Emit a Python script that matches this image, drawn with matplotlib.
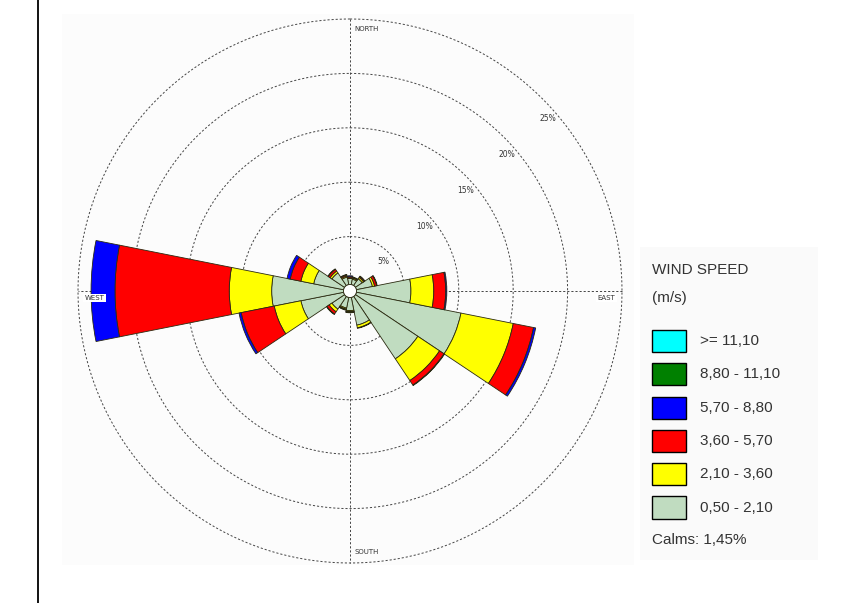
import matplotlib.pyplot as plt
import numpy as np
from matplotlib.patches import Rectangle, Circle
from matplotlib.lines import Line2D

# wind rose data, % frequency per direction and speed class
directions = ["N", "NNE", "NE", "ENE", "E", "ESE", "SE", "SSE",
              "S", "SSW", "SW", "WSW", "W", "WNW", "NW", "NNW"]
calm_r = 0.6
f_050_210 = [0.55, 0.5, 0.75, 1.5, 5.0, 9.8, 6.9, 2.6, 1.2, 1.0, 1.4, 4.0, 6.6, 2.8, 1.4, 0.7]
f_210_360 = [0.05, 0.1, 0.15, 0.2, 2.1, 4.9, 2.4, 0.25, 0.1, 0.1, 0.3, 2.5, 3.9, 1.2, 0.2, 0.1]
f_360_570 = [0.1, 0.05, 0.1, 0.2, 1.1, 1.9, 0.5, 0.05, 0.05, 0.05, 0.25, 3.1, 10.5, 1.0, 0.2, 0.1]
f_570_880 = [0.1, 0.05, 0.05, 0.05, 0.1, 0.2, 0.05, 0.0, 0.05, 0.05, 0.05, 0.2, 2.2, 0.3, 0.05, 0.05]
f_880_1110 = [0.0] * 16
f_1110 = [0.0] * 16

classes = [">= 11,10", "8,80 - 11,10", "5,70 - 8,80", "3,60 - 5,70", "2,10 - 3,60", "0,50 - 2,10"]
class_colors = ["#00ffff", "#008000", "#0000ff", "#ff0000", "#ffff00", "#c0dcc0"]
rings = [5, 10, 15, 20, 25]
calms_text = "Calms: 1,45%"

W, H = 854, 603
fig = plt.figure(figsize=(W / 100, H / 100), dpi=100)


def fx(x):
    return x / W


def fy(y):
    return 1 - y / H


# very light grey panels
fig.add_artist(Rectangle((fx(62), fy(565)), fx(634) - fx(62), fy(14) - fy(565),
                         facecolor="#fcfcfc", edgecolor="none", zorder=0))
fig.add_artist(Rectangle((fx(640), fy(560)), fx(818) - fx(640), fy(247) - fy(560),
                         facecolor="#fafafa", edgecolor="none", zorder=0))
fig.add_artist(Line2D([fx(38), fx(38)], [0, 1], color="black", lw=1.3))

cx, cy, R = 350, 291, 272
ax = fig.add_axes([fx(cx - R), fy(cy + R), 2 * R / W, 2 * R / H], projection="polar")
ax.patch.set_alpha(0)
ax.set_theta_zero_location("N")
ax.set_theta_direction(-1)
ax.set_ylim(0, 25)
ax.grid(False)
ax.spines["polar"].set_visible(False)
ax.set_xticks([])
ax.set_yticks([])

theta = np.deg2rad(np.arange(16) * 22.5)
width = 2 * np.pi / 16

# rings and axis lines
t = np.linspace(0, 2 * np.pi, 400)
for r in rings:
    ax.plot(t, np.full_like(t, r), color="#444444", lw=0.7, ls=(0, (2.2, 2)), clip_on=False, zorder=1)
for a in [0, 90]:
    ax.plot([np.deg2rad(a), np.deg2rad(a + 180)], [25, 25], color="#444444", lw=0.7,
            ls=(0, (2.2, 2)), clip_on=False, zorder=1)

# stacked bars
bottom = np.full(16, calm_r)
for vals, col in [(f_050_210, class_colors[5]), (f_210_360, class_colors[4]),
                  (f_360_570, class_colors[3]), (f_570_880, class_colors[2]),
                  (f_880_1110, class_colors[1]), (f_1110, class_colors[0])]:
    vals = np.array(vals)
    m = vals > 0
    ax.bar(theta[m], vals[m], width=width, bottom=bottom[m], color=col,
           edgecolor="#2a2a10", linewidth=0.6, zorder=3)
    bottom = bottom + vals

ax.add_artist(Circle((0, 0), calm_r, transform=ax.transData._b, facecolor="white",
                     edgecolor="#2a2a10", lw=0.6, zorder=4))

# ring labels
for r in rings:
    ax.text(np.deg2rad(49), r - 0.9, f"{r}%", fontsize=5.5, color="#333333",
            ha="center", va="center", zorder=5)

lab = dict(fontsize=5, color="#333333", zorder=5)
ax.annotate("NORTH", xy=(0, 25), xytext=(3, -7), textcoords="offset points", ha="left", va="center", **lab)
ax.annotate("SOUTH", xy=(np.pi, 25), xytext=(3, 8), textcoords="offset points", ha="left", va="center", **lab)
ax.annotate("WEST", xy=(1.5 * np.pi, 25), xytext=(12, -5), textcoords="offset points", ha="center", va="center",
            bbox=dict(boxstyle="square,pad=0.2", fc="white", ec="none"), **lab)
ax.annotate("EAST", xy=(0.5 * np.pi, 25), xytext=(-11, -5), textcoords="offset points", ha="center", va="center",
            bbox=dict(boxstyle="square,pad=0.2", fc="white", ec="none"), **lab)

# legend
lfont = dict(family="Liberation Sans", fontsize=11, color="#333333")
fig.text(fx(652), fy(270), "WIND SPEED", ha="left", va="center", **lfont)
fig.text(fx(652), fy(298), "(m/s)", ha="left", va="center", **lfont)
for i, (lbl, col) in enumerate(zip(classes, class_colors)):
    yc = 341 + 33.3 * i
    fig.add_artist(Rectangle((fx(652), fy(yc + 11)), fx(686) - fx(652), fy(yc - 11) - fy(yc + 11),
                             facecolor=col, edgecolor="black", lw=1.0))
    fig.text(fx(700), fy(yc), lbl, ha="left", va="center", **lfont)
fig.text(fx(652), fy(540), calms_text, ha="left", va="center", **lfont)

fig.savefig("out.png", dpi=100)
